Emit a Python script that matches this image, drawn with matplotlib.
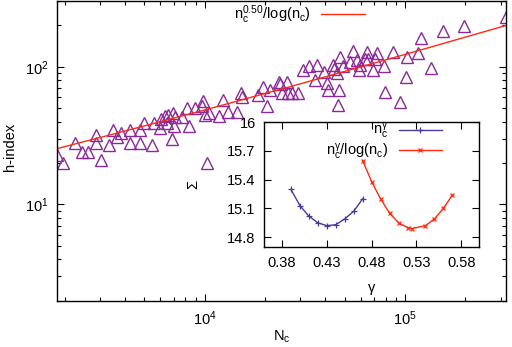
import matplotlib
matplotlib.use("Agg")
import matplotlib.pyplot as plt
import numpy as np

plt.rcParams["font.family"] = ["Liberation Sans", "DejaVu Sans"]
plt.rcParams["mathtext.fontset"] = "custom"
plt.rcParams["mathtext.rm"] = "Liberation Sans"
plt.rcParams["mathtext.it"] = "Liberation Sans"
plt.rcParams["mathtext.bf"] = "Liberation Sans"
FS = 10.5

# main panel: citations N_c vs h-index
N_c = [1824, 1954, 2251, 2454, 2604, 2856, 2856, 3052, 3340, 3504, 3669, 3820,
       4236, 4250, 4764, 4760, 4993, 5475, 5583, 5981, 6050, 6337, 6560, 6463,
       6843, 6970, 7108, 7026, 7677, 8131, 8378, 8945,
       9661, 9840, 10015, 10543, 10304, 11827, 12384, 13117, 14445, 15123,
       15298, 18515, 19614, 20395, 21185, 23585, 23768, 24243, 25670, 26150,
       27196, 29331,
       30856, 33300, 36250, 35540, 39420, 40660, 41420, 43860, 44370, 45610,
       47370, 48870, 46990, 46460, 53150, 55210, 57410, 59150, 59630, 63150,
       64850, 65600, 69010, 70860, 72710, 78830, 79200, 86840,
       94430, 101180, 101990, 116550, 120230, 134900, 154290, 197800, 319500]
h_index = [23, 20, 28, 24, 24, 32, 28, 21, 27, 35, 31, 33,
           35, 28, 28, 35, 39, 27, 39, 36, 42, 44, 45, 39,
           30, 46, 43, 37, 43, 50, 37, 50,
           52, 56, 45, 46, 20, 44, 57, 47, 47, 64,
           60, 62, 71, 52, 68, 78, 75, 64, 78, 64,
           64, 65,
           95, 102, 103, 80, 92, 76, 68, 103, 97, 90,
           118, 102, 68, 53, 109, 131, 112, 95, 103, 113,
           127, 113, 95, 113, 126, 102, 66, 127,
           55, 84, 118, 125, 161, 98, 183, 198, 228]

# fitted curve n_c^0.50/log(n_c)
fit_N = [1824, 3000, 10000, 30000, 100000, 319500]
fit_h = [25.4, 30.6, 48.5, 75.1, 122.8, 199.4]

# inset: Sigma vs gamma
gam_a = [0.39, 0.40, 0.41, 0.42, 0.43, 0.44, 0.45, 0.46, 0.47]
sig_a = [15.30, 15.13, 15.02, 14.95, 14.92, 14.93, 14.99, 15.07, 15.20]
gam_b = [0.47, 0.48, 0.49, 0.50, 0.51, 0.52, 0.525, 0.54, 0.55, 0.56, 0.57]
sig_b = [15.60, 15.38, 15.20, 15.05, 14.95, 14.90, 14.89, 14.92, 14.99, 15.10, 15.24]
inset_xticks = [0.38, 0.43, 0.48, 0.53, 0.58]
inset_yticks = [14.8, 15.1, 15.4, 15.7, 16.0]
inset_yticklabels = ["14.8", "15.1", "15.4", "15.7", "16"]

PURPLE = "#8a2a98"
RED = "#ff2a10"
BLUE = "#4a3c96"

fig = plt.figure(figsize=(5.12, 3.47), dpi=100)
ax = fig.add_axes([0.1107, 0.1334, 0.8776, 0.8636])

ax.plot(N_c, h_index, ls="none", marker="^", ms=8, mfc="none", mec=PURPLE, mew=1.0)
ax.plot(fit_N, fit_h, color=RED, lw=1.0, label=r"$\mathregular{n_c^{0.50}/log(n_c)}$")
ax.set_xscale("log")
ax.set_yscale("log")
ax.set_xlim(1824, 319500)
ax.set_ylim(2, 300)
ax.tick_params(which="both", direction="in", top=True, right=True, labelsize=FS)
ax.tick_params(which="major", length=5, width=0.8, pad=6)
ax.tick_params(which="minor", length=3, width=0.8)
for s in ax.spines.values():
    s.set_linewidth(1.0)
ax.set_xlabel(r"$\mathregular{N_c}$", fontsize=FS)
ax.set_ylabel("h-index", fontsize=FS, va="center")
ax.xaxis.set_label_coords((282 - 56.7) / 449.3, -(337 - 300.7) / 300.7)
ax.yaxis.set_label_coords(-(56.7 - 10) / 449.3, (300.7 - 146) / 300.7)
ax.xaxis.label.set_va("center")
ax.legend(loc="center right", bbox_to_anchor=(0.686, 0.955), frameon=False,
          markerfirst=False, fontsize=FS, handlelength=3.0, handletextpad=0.7,
          borderpad=0, borderaxespad=0)

ins = fig.add_axes([0.5156, 0.2890, 0.4205, 0.3586])
ins.plot(gam_a, sig_a, color=BLUE, lw=1.0, marker="+", ms=4, mew=0.9,
         label=r"$\mathregular{n_c^{γ}}$")
ins.plot(gam_b, sig_b, color=RED, lw=1.0, marker="x", ms=3.5, mew=0.9,
         label=r"$\mathregular{n_c^{γ}/log(n_c)}$")
ins.set_xlim(0.36, 0.60)
ins.set_ylim(14.7, 16.0)
ins.set_xticks(inset_xticks)
ins.set_xticklabels([f"{t:.2f}" for t in inset_xticks])
ins.set_yticks(inset_yticks)
ins.set_yticklabels(inset_yticklabels)
ins.tick_params(direction="in", top=True, right=True, labelsize=FS, length=5, width=0.8)
ins.tick_params(axis="x", pad=7)
ins.tick_params(axis="y", pad=6)
for s in ins.spines.values():
    s.set_linewidth(1.0)
ins.set_xlabel("γ", fontsize=FS, va="center")
ins.set_ylabel("Σ", fontsize=FS, va="center")
ins.xaxis.set_label_coords((372 - 264) / 215.3, -(288 - 246.7) / 124.4)
ins.yaxis.set_label_coords(-(264 - 193) / 215.3, (246.7 - 184) / 124.4)
ins.legend(loc="center right", bbox_to_anchor=(0.828, 0.845), frameon=False,
           markerfirst=False, fontsize=FS, handlelength=3.0, handletextpad=0.7,
           borderpad=0, borderaxespad=0, labelspacing=0.02)

fig.savefig("out.png", dpi=100)
